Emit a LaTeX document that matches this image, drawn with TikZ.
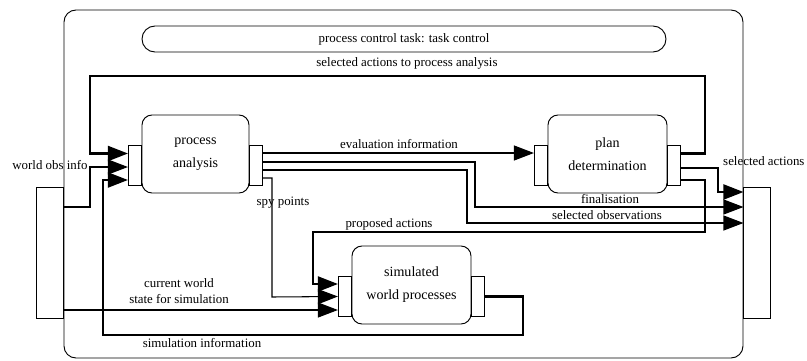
\documentclass[tikz,border=0pt]{standalone}
\usepackage{fontspec}
\setmainfont{Liberation Serif}
\usetikzlibrary{arrows.meta,calc}

\begin{document}
\begin{tikzpicture}[x=0.03cm,y=-0.03cm,
    box/.style={draw,line width=0.8pt,rounded corners=0.3cm,minimum width=3.57cm,minimum height=2.34cm,align=center,font=\fontsize{12}{19.6}\selectfont},
    port/.style={draw,line width=0.8pt,fill=white,minimum width=0.38cm,minimum height=1.2cm,inner sep=0pt},
    iface/.style={draw,line width=0.8pt,minimum width=0.81cm,minimum height=3.93cm,inner sep=0pt},
    lbl/.style={inner sep=0pt,align=center,text height=1.5ex,text depth=0.25ex,font=\fontsize{11}{13.7}\selectfont},
    flow/.style={line width=0.9pt,-{Triangle[length=0.6cm,width=0.45cm]}},
    heavyflow/.style={flow,line width=1.8pt}]
    \useasboundingbox (0,0) rectangle (807,360);
    % Draw the outer component and its interfaces
    \node[draw,line width=0.8pt,rounded corners=0.36cm,minimum width=20.37cm,minimum height=10.44cm] (ctrl) at (403.5,184) {};
    \node[draw,line width=0.8pt,rounded corners=0.39cm,minimum width=15.72cm,minimum height=0.78cm,font=\fontsize{11}{13.7}\selectfont] (task) at (404,39) {process control task: task control};
    \node[iface,anchor=east] (in-if) at ($(ctrl.west)+(0,68.5)$) {};
    \node[iface,anchor=west] (out-if) at ($(ctrl.east)+(0,68.5)$) {};
    % Draw the components and their ports
    \node[box,minimum width=3.21cm] (pa) at (195.5,154) {process\\analysis};
    \node[box] (pd) at (607.5,154) {plan\\determination};
    \node[box] (swp) at (411.5,285) {simulated\\world processes};
    \node[port,anchor=east] (pa-in) at ($(pa.west)+(0,11)$) {};
    \node[port,anchor=west] (pa-out) at ($(pa.east)+(0,11)$) {};
    \node[port,anchor=east] (pd-in) at ($(pd.west)+(0,11)$) {};
    \node[port,anchor=west] (pd-out) at ($(pd.east)+(0,11)$) {};
    \node[port,anchor=east] (swp-in) at ($(swp.west)+(0,11.5)$) {};
    \node[port,anchor=west] (swp-out) at ($(swp.east)+(0,11.5)$) {};
    % Draw the links
    \draw[heavyflow] ($(pd-out.east)+(0,-11.5)$) -| (705,76) -| (90,153.5) -- ($(pa-in.west)+(0,-11.5)$);
    \draw[flow] ($(in-if.east)+(0,-45.5)$) -| (90,167) -- ($(pa-in.west)+(0,2)$);
    \draw[heavyflow] (swp-out.east) -| (523,335) -| (103,180) -- ($(pa-in.west)+(0,15)$);
    \draw[flow] ($(pa-out.east)+(0,-12)$) -- ($(pd-in.west)+(0,-12)$);
    \draw[flow] ($(pa-out.east)+(0,-3)$) -| (475,207) -- ($(out-if.west)+(0,-45.5)$);
    \draw[flow] ($(pa-out.east)+(0,5)$) -| (467,223) -- ($(out-if.west)+(0,-29.5)$);
    \draw[flow] ($(pa-out.east)+(0,13)$) -| (272,297) -- (swp-in.west);
    \draw[heavyflow] ($(pd-out.east)+(0,3)$) -| (718,192) -- ($(out-if.west)+(0,-60.5)$);
    \draw[heavyflow] ($(pd-out.east)+(0,15)$) -| (705,232) -| (313,284) -- ($(swp-in.west)+(0,-12.5)$);
    \draw[flow] ($(in-if.east)+(0,57.5)$) -- ($(swp-in.west)+(0,13.5)$);
    % Draw the link labels
    \node[lbl] (l-sa2pa) at (407,63) {selected actions to process analysis};
    \node[lbl] (l-obs) at (50,166) {world obs info};
    \node[lbl] (l-eval) at (399,145) {evaluation information};
    \node[lbl] (l-spy) at (283,202) {spy points};
    \node[lbl] (l-fin) at (610,200) {finalisation};
    \node[lbl] (l-selobs) at (607,216) {selected observations};
    \node[lbl,anchor=west] (l-selact) at (723,162) {selected actions};
    \node[lbl] (l-prop) at (389,224) {proposed actions};
    \node[lbl,text height=,text depth=] (l-cur) at (179,291) {current world\\state for simulation};
    \node[lbl] (l-sim) at (202,344) {simulation information};
\end{tikzpicture}
\end{document}
